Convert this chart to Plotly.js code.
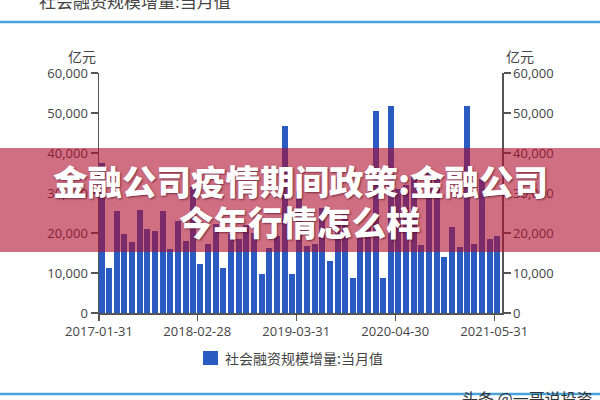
<!DOCTYPE html>
<html><head><meta charset="utf-8">
<script src="https://cdn.plot.ly/plotly-3.0.1.min.js"></script>
<style>html,body{margin:0;padding:0;background:#fff;}#chart{width:600px;height:400px;}</style>
</head><body><div id="chart"></div>
<script>
// ---- data ----
const months = [
 '2017-01-31','2017-02-28','2017-03-31','2017-04-30','2017-05-31','2017-06-30','2017-07-31','2017-08-31','2017-09-30','2017-10-31','2017-11-30','2017-12-31',
 '2018-01-31','2018-02-28','2018-03-31','2018-04-30','2018-05-31','2018-06-30','2018-07-31','2018-08-31','2018-09-30','2018-10-31','2018-11-30','2018-12-31',
 '2019-01-31','2019-02-28','2019-03-31','2019-04-30','2019-05-31','2019-06-30','2019-07-31','2019-08-31','2019-09-30','2019-10-31','2019-11-30','2019-12-31',
 '2020-01-31','2020-02-29','2020-03-31','2020-04-30','2020-05-31','2020-06-30','2020-07-31','2020-08-31','2020-09-30','2020-10-31','2020-11-30','2020-12-31',
 '2021-01-31','2021-02-28','2021-03-31','2021-04-30','2021-05-31'
];
const values = [
 37500,11200,25500,19700,17800,25800,21100,20600,25400,16000,22900,18100,
 31400,12200,17200,22200,11300,19700,18400,22000,19900,9700,16200,19200,
 46800,9700,30400,16700,17200,26200,12900,21900,25400,8800,19900,22100,
 50500,8800,51800,30900,31900,34300,16900,35800,34800,14100,21600,16600,
 51800,17200,33400,18500,19200
];
const tickDates = ['2017-01-31','2018-02-28','2019-03-31','2020-04-30','2021-05-31'];
const seriesName = '社会融资规模增量:当月值';
const unitLabel = '亿元';
const bannerLine1 = '金融公司疫情期间政策:金融公司';
const bannerLine2 = '今年行情怎么样';
const watermark = '头条 @一哥说投资';

// ---- layout helpers (pixel -> paper) ----
const L = 99, R = 502, T = 73, B = 313;
const px = x => (x - L) / (R - L);
const py = y => (B - y) / (B - T);
const DAY = 86400000;

const axisColor = '#555';
const tickFont = {family: 'Open Sans, Noto Sans CJK SC, sans-serif', size: 13, color: '#444'};
const cjk = 'Noto Sans CJK SC, sans-serif';

const trace = {
  type: 'bar', x: months, y: values, name: seriesName,
  marker: {color: '#2a5bc3', line: {width: 0}},
  offset: 0, width: 24 * DAY, hoverinfo: 'x+y', showlegend: false
};
// invisible companion so the right-hand axis is drawn
const traceRight = {
  type: 'scatter', mode: 'markers', x: months, y: values, yaxis: 'y2',
  marker: {opacity: 0}, hoverinfo: 'skip', showlegend: false
};

const yCommon = {
  range: [0, 60000], dtick: 10000, tickformat: ',d', autorange: false,
  showline: true, linecolor: axisColor, linewidth: 1.5,
  ticks: 'outside', ticklen: 7, tickwidth: 1.2, tickcolor: axisColor,
  showgrid: false, zeroline: false, tickfont: tickFont, fixedrange: true
};

const layout = {
  width: 600, height: 400,
  margin: {l: L, r: 600 - R, t: T, b: 400 - B},
  paper_bgcolor: '#fff', plot_bgcolor: '#fff',
  showlegend: false, bargap: 0,
  xaxis: {
    type: 'date', range: ['2017-01-31', '2021-07-01'],
    tickvals: tickDates, ticktext: tickDates,
    showline: true, linecolor: axisColor, linewidth: 1.5,
    ticks: 'outside', ticklen: 6, tickwidth: 1.2, tickcolor: axisColor,
    showgrid: false, zeroline: false, tickfont: tickFont, fixedrange: true
  },
  yaxis: Object.assign({}, yCommon, {side: 'left'}),
  yaxis2: Object.assign({}, yCommon, {side: 'right', overlaying: 'y', anchor: 'x'}),
  shapes: [
    {type: 'line', xref: 'paper', yref: 'paper', x0: px(0), x1: px(600), y0: py(22), y1: py(22),
     line: {color: '#4aa3dc', width: 2.5}},
    {type: 'line', xref: 'paper', yref: 'paper', x0: px(0), x1: px(600), y0: py(394), y1: py(394),
     line: {color: '#4aa3dc', width: 2.5}},
    {type: 'rect', xref: 'paper', yref: 'paper', x0: px(203), x1: px(218), y0: py(365), y1: py(351),
     fillcolor: '#2a5bc3', line: {width: 0}},
    {type: 'rect', xref: 'paper', yref: 'paper', layer: 'above', x0: px(-2), x1: px(602), y0: py(252), y1: py(148),
     fillcolor: 'rgba(176,14,46,0.6)', line: {width: 0}}
  ],
  annotations: [
    {xref: 'paper', yref: 'paper', x: px(37), y: py(0), xanchor: 'left', yanchor: 'middle',
     text: seriesName, showarrow: false, font: {family: cjk, size: 17, color: '#444'}},
    {xref: 'paper', yref: 'paper', x: px(98), y: py(56), xanchor: 'right', yanchor: 'middle',
     text: unitLabel, showarrow: false, font: {family: cjk, size: 14, color: '#444'}},
    {xref: 'paper', yref: 'paper', x: px(504), y: py(56), xanchor: 'left', yanchor: 'middle',
     text: unitLabel, showarrow: false, font: {family: cjk, size: 14, color: '#444'}},
    {xref: 'paper', yref: 'paper', x: px(223), y: py(358), xanchor: 'left', yanchor: 'middle',
     text: seriesName, showarrow: false, font: {family: cjk, size: 14, color: '#444'}},
    {xref: 'paper', yref: 'paper', x: px(460), y: py(398), xanchor: 'left', yanchor: 'middle',
     text: watermark, showarrow: false, font: {family: cjk, size: 16, color: '#333'}},
    {xref: 'paper', yref: 'paper', x: px(300), y: py(180), xanchor: 'center', yanchor: 'middle',
     text: bannerLine1, showarrow: false,
     font: {family: cjk, size: 34.5, color: '#fff', weight: 900, shadow: '1px 1px 2px rgba(60,0,20,0.6)'}},
    {xref: 'paper', yref: 'paper', x: px(300), y: py(221), xanchor: 'center', yanchor: 'middle',
     text: bannerLine2, showarrow: false,
     font: {family: cjk, size: 34.5, color: '#fff', weight: 900, shadow: '1px 1px 2px rgba(60,0,20,0.6)'}}
  ]
};

Plotly.newPlot('chart', [trace, traceRight], layout, {staticPlot: true, displayModeBar: false});
</script>
</body></html>
